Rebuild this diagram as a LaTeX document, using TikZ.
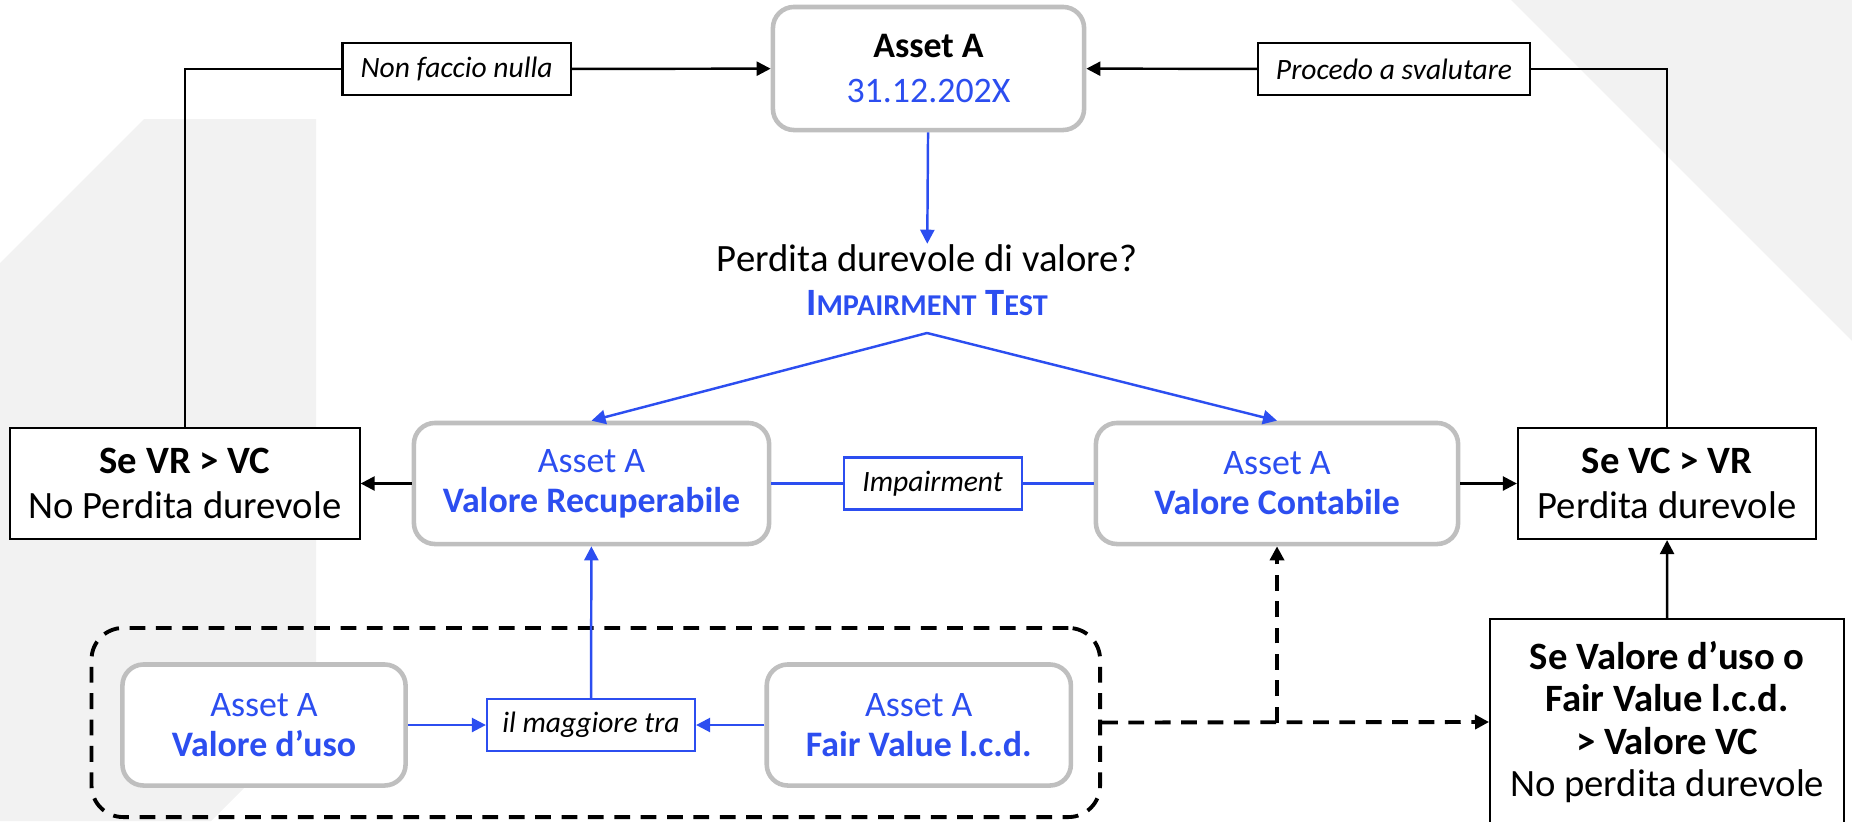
\documentclass[tikz,border=0pt]{standalone}
\usepackage{fontspec}
\setmainfont{Carlito}
\usetikzlibrary{arrows.meta, positioning, calc}
\definecolor{blu}{RGB}{44,78,240}
\definecolor{grigio}{RGB}{191,191,191}
\definecolor{sfondo}{RGB}{242,242,242}
\newcommand{\fsize}[2]{\fontsize{#1}{#2}\selectfont}

\begin{document}
\begin{tikzpicture}[x=0.01cm, y=-0.01cm,
            asset/.style={rectangle, rounded corners=6pt, draw=grigio, line width=1.3pt, fill=white, align=center, inner sep=0pt, minimum height=1.21cm, font=\fsize{10.2}{11.4}},
            esito/.style={rectangle, draw, line width=0.6pt, fill=white, align=center, inner sep=0pt, font=\fsize{11}{12.8}},
            etichetta/.style={rectangle, draw, line width=0.6pt, fill=white, inner sep=0pt, minimum height=0.52cm, font=\fsize{8.4}{10}\itshape},
            freccia/.style={-{Triangle[length=4pt,width=4pt]}, line width=0.7pt},
            tratteggio/.style={line width=1.1pt, dash pattern=on 4.5pt off 3pt}]

            \useasboundingbox (0,0) rectangle (1852,821);
            \clip (0,0) rectangle (1852,821);
            \fill[sfondo] (0,263) -- (144,119) -- (316,119) -- (316,716) -- (211,821) -- (0,821) -- cycle;
            \fill[sfondo] (1511,0) -- (1852,0) -- (1852,341) -- cycle;

            \node[asset, minimum width=3.11cm, minimum height=1.23cm, font=\fsize{10.2}{12.8}] (asset) at (928.5,68.5) {\textbf{Asset A}\\\textcolor{blu}{31.12.202X}};
            \node[font=\fsize{11}{12.5}, align=center, inner sep=0pt] (domanda) at (927,280) {Perdita durevole di valore?\\\textcolor{blu}{\bfseries I{\fsize{8.6}{12.5}MPAIRMENT} T{\fsize{8.6}{12.5}EST}}};
            \coordinate (apice) at (927,333);

            \node[asset, minimum width=3.55cm] (vr) at (591.5,483.5) {\textcolor{blu}{Asset A}\\\textcolor{blu}{\bfseries Valore Recuperabile}};
            \node[asset, minimum width=3.62cm] (vc) at (1277,483.5) {\textcolor{blu}{Asset A}\\\textcolor{blu}{\bfseries Valore Contabile}};
            \node[etichetta, draw=blu, minimum width=1.78cm] (imp) at (932.6,483.5) {Impairment};

            \node[esito, minimum width=3.49cm, minimum height=1.11cm] (sevr) at (185,483.5) {\textbf{Se VR > VC}\\No Perdita durevole};
            \node[esito, minimum width=2.98cm, minimum height=1.11cm] (sevc) at (1667,483.5) {\textbf{Se VC > VR}\\Perdita durevole};

            \node[etichetta, minimum width=2.28cm] (nulla) at (456.6,69) {Non faccio nulla};
            \node[etichetta, minimum width=2.71cm] (svaluto) at (1394,69) {Procedo a svalutare};

            \node[draw, tratteggio, rounded corners=9pt, minimum width=10.08cm, minimum height=1.89cm] (gruppo) at (595.8,722.5) {};
            \node[asset, minimum width=2.83cm] (uso) at (264,725) {\textcolor{blu}{Asset A}\\\textcolor{blu}{\bfseries Valore d’uso}};
            \node[asset, minimum width=3.04cm] (fair) at (918.8,725) {\textcolor{blu}{Asset A}\\\textcolor{blu}{\bfseries Fair Value l.c.d.}};
            \node[etichetta, draw=blu, minimum width=2.08cm] (maggiore) at (591,725) {il maggiore tra};

            \node[esito, minimum width=3.54cm, minimum height=2.06cm, font=\fsize{11}{12}] (confronto) at (1667.2,722) {\textbf{Se Valore d’uso o}\\\textbf{Fair Value l.c.d.}\\\textbf{> Valore VC}\\No perdita durevole};
            \coordinate (bivio) at (vc |- gruppo.east);

            \draw[freccia, blu] (asset) -- (domanda) ;
            \draw[freccia, blu] (apice) -- (vr.north);
            \draw[freccia, blu] (apice) -- (vc.north);
            \draw[blu, line width=0.7pt] (vr) -- (imp) -- (vc);
            \draw[freccia] (vr) -- (sevr);
            \draw[freccia] (vc) -- (sevc);
            \draw[line width=0.6pt] (sevr.north) |- (nulla.west);
            \draw[freccia] (nulla) -- (asset);
            \draw[line width=0.6pt] (sevc.north) |- (svaluto.east);
            \draw[freccia] (svaluto) -- (asset);
            \draw[freccia, blu] (uso) -- (maggiore);
            \draw[freccia, blu] (fair) -- (maggiore);
            \draw[freccia, blu] (maggiore) -- (vr);
            \draw[freccia, tratteggio] (gruppo.east) -- (confronto.west);
            \draw[freccia, tratteggio] (bivio) -- (vc);
            \draw[freccia] (confronto) -- (sevc);
        \end{tikzpicture}
\end{document}
